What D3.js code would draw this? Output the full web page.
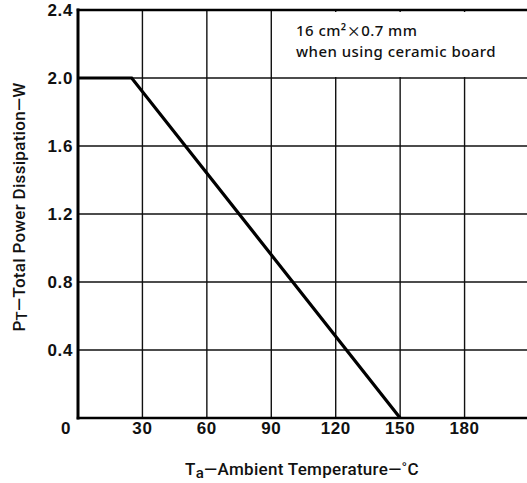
<!DOCTYPE html>
<html>
<head>
<meta charset="utf-8">
<script src="https://cdn.jsdelivr.net/npm/d3@7"></script>
<style>
  body { margin: 0; background: #fff; }
  .tick-label { font-family: "Liberation Sans", Arial, sans-serif; font-weight: bold; font-size: 17px; letter-spacing: 0.6px; fill: #111; }
  .title { font-family: Roboto, "Liberation Sans", sans-serif; font-weight: 500; font-size: 17px; letter-spacing: 0.3px; fill: #111; }
  .note { font-family: "Noto Sans", sans-serif; font-weight: 500; font-size: 15px; letter-spacing: 0.45px; fill: #111; }
</style>
</head>
<body>
<svg id="chart" width="527" height="483"></svg>
<script>
// derating curve, temperature (°C) vs power (W)
const temps = [0, 25, 150];
const power = [2.0, 2.0, 0];

const xTicks = [0, 30, 60, 90, 120, 150, 180];
const yTicks = [0.4, 0.8, 1.2, 1.6, 2.0, 2.4];
const yTickLabels = ["0.4", "0.8", "1.2", "1.6", "2.0", "2.4"];
const noteLines = ["16 cm²×0.7 mm", "when using ceramic board"];

const svg = d3.select("#chart");
const MARGIN = { top: 10, right: -2, bottom: 65, left: 78 };
const width = +svg.attr("width");
const height = +svg.attr("height");

const x = d3.scaleLinear([0, 210], [MARGIN.left, width - MARGIN.right]);
const y = d3.scaleLinear([0, 2.4], [height - MARGIN.bottom, MARGIN.top]);

// grid
const grid = svg.append("g").attr("stroke", "#111").attr("stroke-width", 1.4);
grid.selectAll("line.v")
  .data(xTicks.slice(1))
  .join("line")
  .attr("class", "v")
  .attr("x1", (d) => x(d)).attr("x2", (d) => x(d))
  .attr("y1", y(0)).attr("y2", y(2.4));
grid.selectAll("line.h")
  .data(yTicks.slice(0, -1))
  .join("line")
  .attr("class", "h")
  .attr("x1", x(0)).attr("x2", width)
  .attr("y1", (d) => y(d)).attr("y2", (d) => y(d));

// note box hides the grid behind it
const note = svg.append("g");
note.append("rect")
  .attr("x", x(99))
  .attr("y", y(2.4) + 2)
  .attr("width", width - x(99))
  .attr("height", y(2.0) - y(2.4) - 3)
  .attr("fill", "#fff");
note.selectAll("text")
  .data(noteLines)
  .join("text")
  .attr("class", "note")
  .attr("x", x(101.5))
  .attr("y", (d, i) => y(2.4) + 26 + i * 21)
  .each(function (d) {
    // the × sign is set in a CJK face to get the wide glyph
    const parts = d.split("×");
    const t = d3.select(this);
    parts.forEach((p, i) => {
      if (i > 0) {
        t.append("tspan")
          .attr("font-family", "'Noto Sans CJK JP', sans-serif")
          .attr("font-size", "14px")
          .text("×");
      }
      t.append("tspan").text(p);
    });
  });

// frame
const frame = svg.append("g").attr("stroke", "#000").attr("stroke-linecap", "square");
frame.append("line")
  .attr("x1", x(0)).attr("x2", x(0))
  .attr("y1", y(0)).attr("y2", y(2.4))
  .attr("stroke-width", 3);
frame.append("line")
  .attr("x1", x(0)).attr("x2", width)
  .attr("y1", y(0)).attr("y2", y(0))
  .attr("stroke-width", 2.5);
frame.append("line")
  .attr("x1", x(0)).attr("x2", width)
  .attr("y1", y(2.4)).attr("y2", y(2.4))
  .attr("stroke-width", 2.5);

// curve
svg.append("path")
  .datum(d3.zip(temps, power))
  .attr("fill", "none")
  .attr("stroke", "#000")
  .attr("stroke-width", 3.2)
  .attr("d", d3.line().x((d) => x(d[0])).y((d) => y(d[1])));

// tick labels
svg.append("g")
  .selectAll("text")
  .data(yTicks)
  .join("text")
  .attr("class", "tick-label")
  .attr("text-anchor", "end")
  .attr("x", x(0) - 5)
  .attr("y", (d) => y(d))
  .attr("dy", "0.36em")
  .text((d, i) => yTickLabels[i]);

svg.append("g")
  .selectAll("text")
  .data(xTicks)
  .join("text")
  .attr("class", "tick-label")
  .attr("text-anchor", "middle")
  .attr("x", (d) => (d === 0 ? x(d) - 12 : x(d)))
  .attr("y", y(0) + 16)
  .text((d) => d);

// axis titles
const xt = svg.append("text")
  .attr("class", "title")
  .attr("text-anchor", "middle")
  .attr("x", 302)
  .attr("y", 475);
xt.append("tspan").text("T");
xt.append("tspan").attr("font-size", "15px").attr("dy", 3).text("a");
xt.append("tspan").attr("dy", -3).text("\u2014Ambient Temperature\u2014\u02DAC");

const yt = svg.append("text")
  .attr("class", "title")
  .attr("text-anchor", "middle")
  .attr("transform", `translate(25,207) rotate(-90)`);
yt.append("tspan").text("P");
yt.append("tspan").attr("font-size", "15px").attr("dy", 2).text("T");
yt.append("tspan").attr("dy", -2).text("\u2014Total Power Dissipation\u2014W");
</script>
</body>
</html>
